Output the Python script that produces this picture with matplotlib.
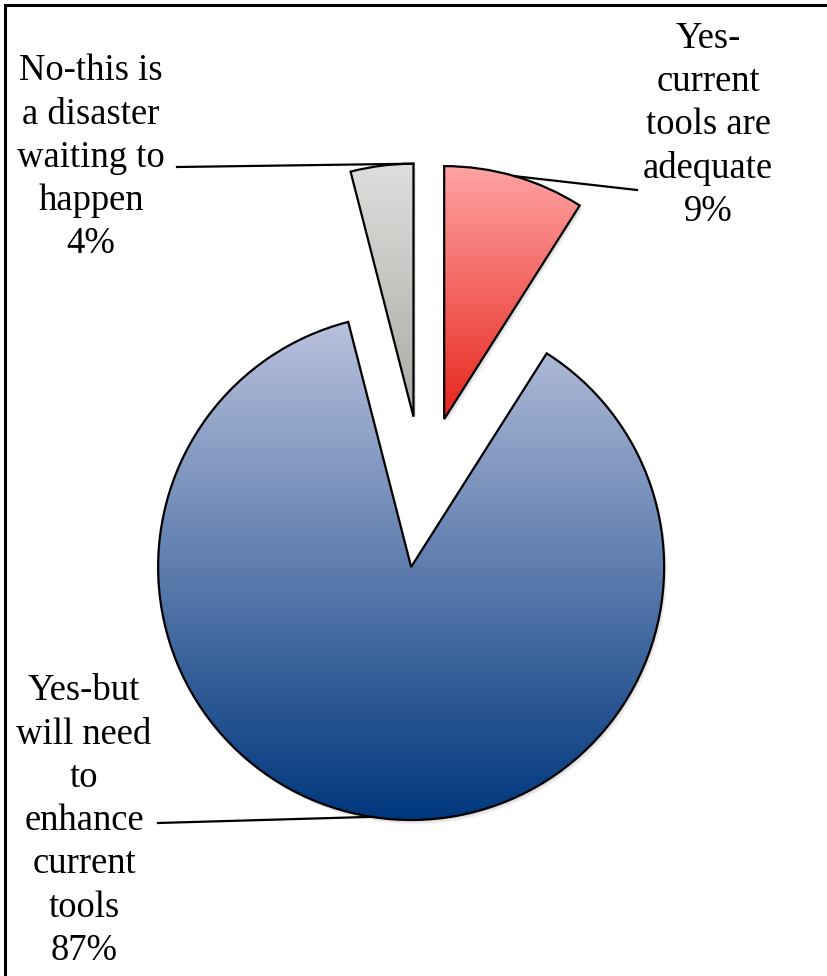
import numpy as np
import matplotlib.pyplot as plt
from matplotlib.colors import to_rgb
from matplotlib.patches import Rectangle, Wedge

plt.rcParams['font.family'] = ['Liberation Serif', 'DejaVu Serif']

# survey answers, clockwise from 12 o'clock
answers = ['Yes-\ncurrent\ntools are\nadequate',
           'Yes-but\nwill need\nto\nenhance\ncurrent\ntools',
           'No-this is\na disaster\nwaiting to\nhappen']
shares = [9, 87, 4]

# gradient end colours (top, bottom) per slice
top_cols = ['#FFA3A3', '#B9C1DD', '#DEDEDC']
bot_cols = ['#E6261C', '#00377D', '#A9A9A5']

W, H = 827, 976
R = 253
fig = plt.figure(figsize=(W / 100, H / 100), dpi=100)
ax = fig.add_axes([0, 0, 1, 1])

# explode is taken in data units, so scale it by the radius
wedges, _ = ax.pie(shares, explode=[0.3 * R] * 3, startangle=90, counterclock=False,
                   center=(423, H - 492), radius=R,
                   wedgeprops=dict(facecolor='none', edgecolor='black',
                                   linewidth=1.6, zorder=3))

for w, c0, c1 in zip(wedges, top_cols, bot_cols):
    # soft drop shadow
    for k in range(1, 6):
        ax.add_patch(Wedge((w.center[0] + 0.6 * k, w.center[1] - 0.9 * k), w.r,
                           w.theta1, w.theta2, facecolor='black', alpha=0.035,
                           linewidth=0, zorder=1))
    # vertical gradient clipped to the slice
    bb = w.get_path().get_extents()
    t = np.linspace(0, 1, 256)[:, None]
    rgb = (1 - t) * np.array(to_rgb(c0)) + t * np.array(to_rgb(c1))
    img = ax.imshow(rgb[:, None, :], extent=(bb.x0, bb.x1, bb.y0, bb.y1),
                    origin='upper', aspect='auto', interpolation='bilinear', zorder=2)
    img.set_clip_path(w)


def arc_pt(w, ang):
    a = np.deg2rad(ang)
    return w.center[0] + w.r * np.cos(a), w.center[1] + w.r * np.sin(a)


red, blue, grey = wedges
lw = 1.6

x0, y0 = arc_pt(red, (red.theta1 + red.theta2) / 2)
ax.plot([x0, 637], [y0, H - 190], color='black', lw=lw, zorder=4)
x0, y0 = arc_pt(grey, grey.theta1)
ax.plot([177, x0], [H - 167, y0], color='black', lw=lw, zorder=4)
x0, y0 = arc_pt(blue, (blue.theta1 + blue.theta2) / 2)
ax.plot([158, x0], [H - 823, y0], color='black', lw=lw, zorder=4)

txt = dict(ha='center', va='top', fontsize=26.4, linespacing=1.33, color='black')
ax.text(708, H - 21, f'{answers[0]}\n{shares[0]}%', **txt)
ax.text(84, H - 674, f'{answers[1]}\n{shares[1]}%', **txt)
ax.text(91, H - 54, f'{answers[2]}\n{shares[2]}%', **txt)

# outer frame (only top and left edges fall inside the canvas)
ax.add_patch(Rectangle((5, -40), W + 60, H - 5 + 40, facecolor='none',
                       edgecolor='black', linewidth=2.2, clip_on=False, zorder=5))

ax.set_xlim(0, W)
ax.set_ylim(0, H)
ax.set_aspect('equal')
ax.axis('off')

fig.savefig('out.png', dpi=100, facecolor='white')
